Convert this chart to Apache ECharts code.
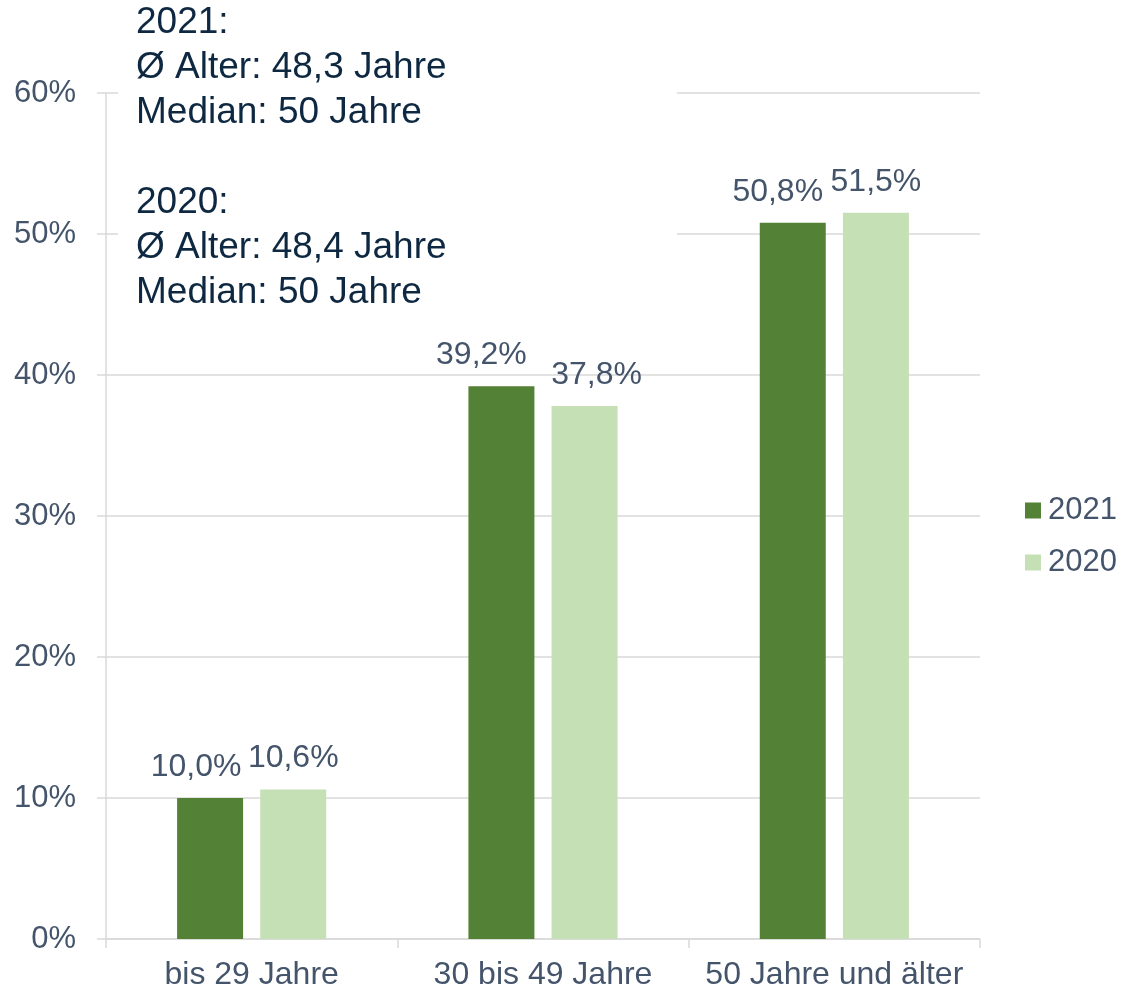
<!DOCTYPE html>
<html>
<head>
<meta charset="utf-8">
<script src="https://cdn.jsdelivr.net/npm/echarts@6/dist/echarts.min.js"></script>
<style>
  html, body { margin: 0; padding: 0; background: #ffffff; }
  #main { width: 1122px; height: 991px; }
</style>
</head>
<body>
<div id="main"></div>
<script>
    // Daten
    var categories = ['bis 29 Jahre', '30 bis 49 Jahre', '50 Jahre und älter'];
    var values2021 = [10.0, 39.2, 50.8];
    var values2020 = [10.6, 37.8, 51.5];
    var yTicks = [0, 10, 20, 30, 40, 50, 60];
    var note2021 = ['2021:', 'Ø Alter: 48,3 Jahre', 'Median: 50 Jahre'];
    var note2020 = ['2020:', 'Ø Alter: 48,4 Jahre', 'Median: 50 Jahre'];

    // horizontale Verschiebung der Beschriftungen (wie im Original)
    var shift2021 = [-14, -20, -15];
    var shift2020 = [0, 12, 0];

    var font = 'Liberation Sans, Arial, sans-serif';
    var textColor = '#44546A';

    function fmt(v) {
        return v.toFixed(1).replace('.', ',') + '%';
    }

    function withShift(values, shift) {
        return values.map(function (v, i) {
            return { value: v, label: { offset: [shift[i], 0] } };
        });
    }

    var myChart = echarts.init(document.getElementById('main'));
    var option = {
        backgroundColor: '#ffffff',
        animation: false,
        textStyle: { fontFamily: font },
        grid: {
            left: 106,
            right: 142,
            top: 93,
            bottom: 52,
            containLabel: false
        },
        legend: {
            orient: 'vertical',
            left: 1025,
            top: 495,
            padding: 0,
            itemWidth: 16,
            itemHeight: 16,
            itemGap: 21,
            icon: 'rect',
            data: ['2021', '2020'],
            textStyle: {
                color: textColor,
                fontSize: 31,
                lineHeight: 30,
                padding: [0, 0, 0, 2],
                fontFamily: font
            }
        },
        xAxis: {
            type: 'category',
            data: categories,
            axisLine: { show: true, lineStyle: { color: '#D9D9D9', width: 1.5 } },
            axisTick: { show: true, alignWithLabel: false, length: 9, lineStyle: { color: '#D9D9D9', width: 1.5 } },
            axisLabel: {
                interval: 0,
                color: textColor,
                fontSize: 32,
                margin: 20,
                fontFamily: font
            }
        },
        yAxis: {
            type: 'value',
            min: yTicks[0],
            max: yTicks[yTicks.length - 1],
            interval: 10,
            axisLine: { show: true, lineStyle: { color: '#D9D9D9', width: 1.5 } },
            axisTick: { show: true, length: 9, lineStyle: { color: '#D9D9D9', width: 1.5 } },
            splitLine: { show: true, lineStyle: { color: '#D9D9D9', width: 1.5 } },
            axisLabel: {
                color: textColor,
                fontSize: 31,
                margin: 30,
                fontFamily: font,
                formatter: '{value}%'
            }
        },
        series: [
            {
                name: '2021',
                type: 'bar',
                barWidth: 66,
                barGap: '26%',
                itemStyle: { color: '#538135' },
                label: {
                    show: true,
                    position: 'top',
                    distance: 15,
                    color: textColor,
                    fontSize: 32,
                    fontFamily: font,
                    formatter: function (p) { return fmt(p.value); }
                },
                data: withShift(values2021, shift2021)
            },
            {
                name: '2020',
                type: 'bar',
                barWidth: 66,
                barGap: '26%',
                itemStyle: { color: '#C5E0B4' },
                label: {
                    show: true,
                    position: 'top',
                    distance: 15,
                    color: textColor,
                    fontSize: 32,
                    fontFamily: font,
                    formatter: function (p) { return fmt(p.value); }
                },
                data: withShift(values2020, shift2020)
            }
        ],
        graphic: [
            {
                // weisses Textfeld verdeckt die Gitterlinien
                type: 'rect',
                z: 100,
                shape: { x: 118, y: 0, width: 559, height: 320 },
                style: { fill: '#ffffff' }
            },
            {
                type: 'text',
                z: 101,
                left: 136,
                top: 0,
                style: {
                    text: note2021.join('\n'),
                    fontSize: 37,
                    lineHeight: 45,
                    fontFamily: font,
                    fill: '#0E2841'
                }
            },
            {
                type: 'text',
                z: 101,
                left: 136,
                top: 180,
                style: {
                    text: note2020.join('\n'),
                    fontSize: 37,
                    lineHeight: 45,
                    fontFamily: font,
                    fill: '#0E2841'
                }
            }
        ]
    };

    myChart.setOption(option);
</script>
</body>
</html>
